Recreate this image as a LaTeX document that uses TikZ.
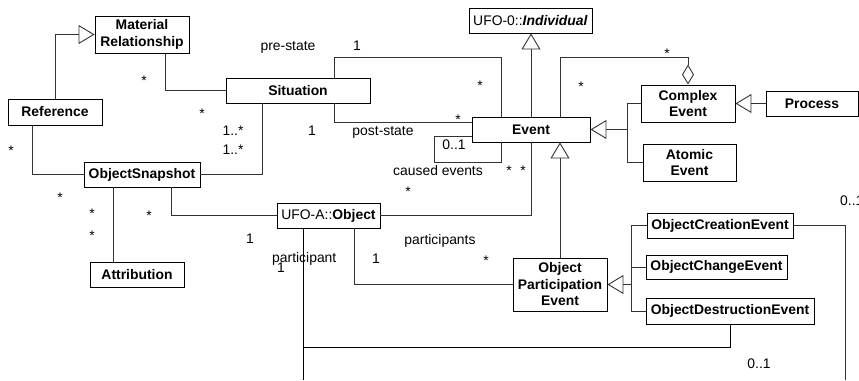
\documentclass[tikz,border=0pt]{standalone}
\usepackage{fontspec}
\setmainfont{Liberation Sans}
\usetikzlibrary{arrows.meta,calc}

\begin{document}
\begin{tikzpicture}[x=1bp,y=-1bp,
  every node/.style={font=\fontsize{13.9bp}{16.5bp}\selectfont},
  cls/.style={draw=black, line width=0.9bp, fill=white, inner sep=0pt,
    align=center, font=\fontsize{13.9bp}{16.5bp}\selectfont\bfseries},
  lbl/.style={inner sep=0pt, anchor=base},
  conn/.style={draw=black!80, line width=0.9bp},
  gen/.style={conn, -{Triangle[open, length=16bp, width=19bp, line width=0.9bp]}},
  agg/.style={conn, -{Diamond[open, length=20bp, width=12bp, line width=0.9bp]}}
]
\useasboundingbox (0,0) rectangle (859,380);

% classes
\node[cls, minimum width=94bp, minimum height=37bp] (mr) at (142,34.5) {Material\\Relationship};
\node[cls, minimum width=144bp, minimum height=25bp] (sit) at (298,90.5) {Situation};
\node[cls, minimum width=94bp, minimum height=26bp] (ref) at (55,112) {Reference};
\node[cls, minimum width=116bp, minimum height=25bp] (os) at (142,174.5) {ObjectSnapshot};
\node[cls, minimum width=94bp, minimum height=25bp] (att) at (137,274.5) {Attribution};
\node[cls, minimum width=123bp, minimum height=25bp, font=\fontsize{13.9bp}{16.5bp}\selectfont] (ind) at (530.5,20.5) {UFO-0::\textbf{\textit{Individual}}};
\node[cls, minimum width=118bp, minimum height=25bp] (ev) at (531,129.5) {Event};
\node[cls, minimum width=94bp, minimum height=37bp] (ce) at (688,103.5) {Complex\\Event};
\node[cls, minimum width=93bp, minimum height=37bp] (ae) at (689.5,162.5) {Atomic\\Event};
\node[cls, minimum width=92bp, minimum height=25bp] (pr) at (812,103.5) {Process};
\node[cls, minimum width=103bp, minimum height=25bp, font=\fontsize{13.9bp}{16.5bp}\selectfont] (obj) at (328.5,215.5) {UFO-A::\textbf{Object}};
\node[cls, minimum width=94bp, minimum height=53bp] (ope) at (560,284.5) {Object\\Participation\\Event};
\node[cls, minimum width=146bp, minimum height=25bp] (oce) at (720,225.5) {ObjectCreationEvent};
\node[cls, minimum width=141bp, minimum height=24bp] (oche) at (716.5,267) {ObjectChangeEvent};
\node[cls, minimum width=168bp, minimum height=26bp] (ode) at (730,311) {ObjectDestructionEvent};

% free ends running off the bottom edge, and junction points
\coordinate (objend) at (303,380);
\coordinate (oceend) at (845,380);
\coordinate (jb) at (303,347);
\coordinate (attj) at ($(os.south)+(-29,0)$);

% generalizations
\draw[gen] (ref.north) |- (mr.west);
\draw[gen] (ev.north) -- (ev.north |- ind.south);
\draw[gen] (ope.north) -- (ope.north |- ev.south);
\coordinate (j1) at ($(ev.east)+(37,0)$);
\draw[conn] (ce.west) -| (j1) |- (ae.west);
\draw[gen] (j1) -- (ev.east);
\draw[gen] (pr.west) -- (pr.west -| ce.east);
\coordinate (j2) at ($(ope.east)+(24,0)$);
\draw[conn] (oce.west) -| (j2) |- (ode.west);
\draw[conn] (oche.west) -- (oche.west -| j2);
\draw[gen] (j2) -- (ope.east);

% aggregation: complex event parts
\draw[agg] ($(ev.north)+(29,0)$) -- ++(0,-59) -| (ce.north);

% associations
\draw[conn] ($(mr.south)+(23,0)$) |- (sit.west);
\draw[conn] ($(ref.south)+(-23,0)$) |- (os.west);
\draw[conn] (os.east) -| ($(sit.south)+(-36,0)$);
\draw[conn] ($(sit.north)+(36,0)$) -- ++(0,-20) -| ($(ev.north)+(-30,0)$);
\draw[conn] ($(sit.south)+(36,0)$) |- ($(ev.north west)+(0,6)$);
\draw[conn] ($(ev.west)+(0,6.5)$) -- ++(-37,0) -- ++(0,26) -| ($(ev.south)+(-30,0)$);
\draw[conn] (ev.south) |- (obj.east);
\draw[conn] ($(os.south)+(29,0)$) |- (obj.west);
\draw[conn] (attj) -- (attj |- att.north);
\draw[conn] ($(obj.south)+(25.5,0)$) |- (ope.west);
\draw[draw=black, line width=0.9bp] (obj.south -| objend) -- (objend);
\draw[draw=black, line width=0.9bp] (jb) -| (ode.south);
\draw[conn] (oce.east) -| (oceend);

% role names and multiplicities
\node[lbl] at (288,50) {pre-state};
\node[lbl] at (357,50) {1};
\node[lbl] at (480,90) {*};
\node[lbl] at (458,124) {*};
\node[lbl] at (312,135) {1};
\node[lbl] at (383,135) {post-state};
\node[lbl] at (454,149) {0..1};
\node[lbl] at (438,175) {caused events};
\node[lbl] at (509,175) {*};
\node[lbl] at (523,175) {*};
\node[lbl] at (408,196) {*};
\node[lbl] at (144,85) {*};
\node[lbl] at (202,118) {*};
\node[lbl] at (233,135) {1..*};
\node[lbl] at (233,154) {1..*};
\node[lbl] at (11,155) {*};
\node[lbl] at (60,202) {*};
\node[lbl] at (92,218) {*};
\node[lbl] at (92,240) {*};
\node[lbl] at (149,220) {*};
\node[lbl] at (667,58) {*};
\node[lbl] at (581,91) {*};
\node[lbl] at (440,244) {participants};
\node[lbl] at (376,263) {1};
\node[lbl] at (486,265) {*};
\node[lbl] at (250,243) {1};
\node[lbl, anchor=base west] at (272,262) {participant};
\node[lbl] at (281,272) {1};
\node[lbl] at (759,368) {0..1};
\node[lbl, anchor=base west] at (840,205) {0..1};
\end{tikzpicture}
\end{document}
